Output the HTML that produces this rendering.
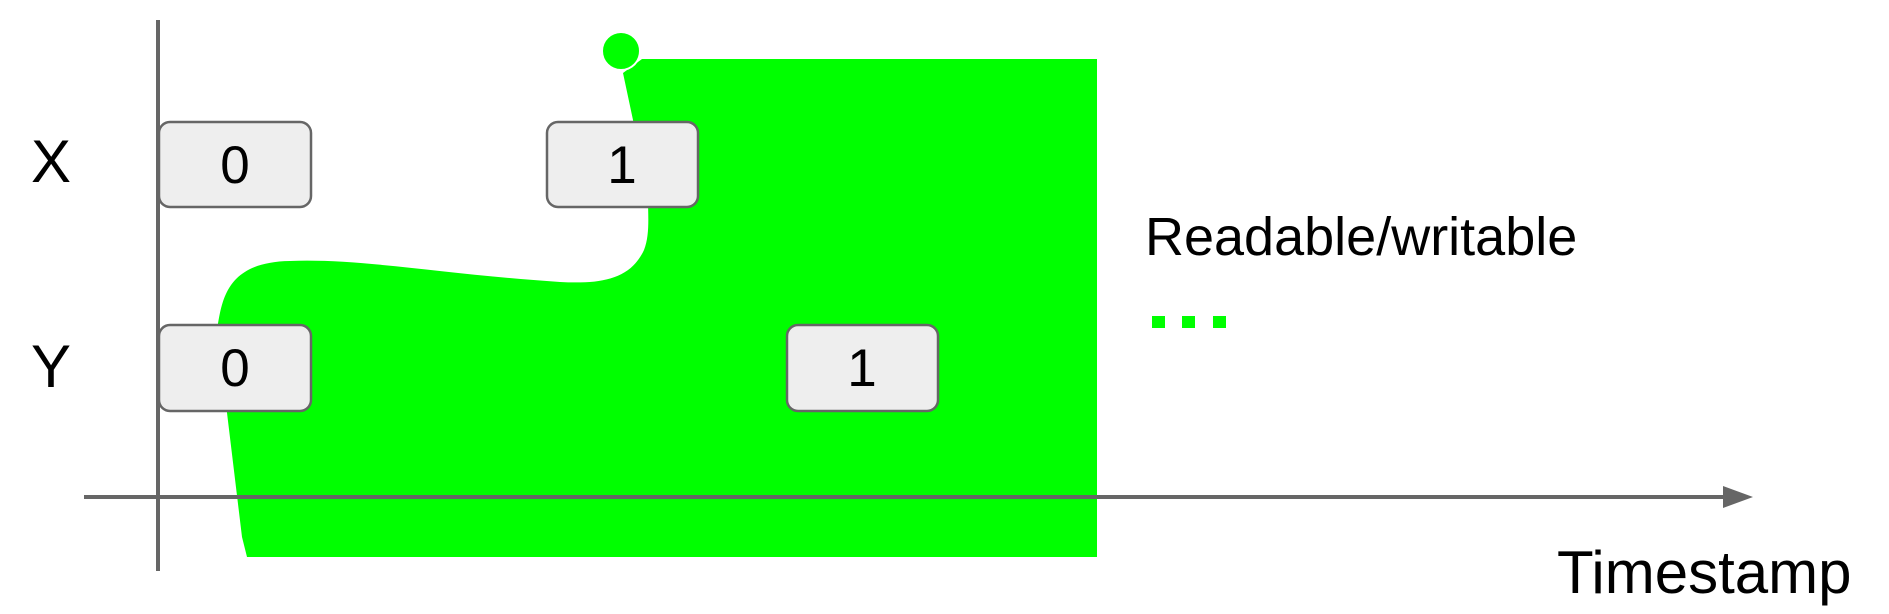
<!DOCTYPE html>
<html><head><meta charset="utf-8"><style>
html,body{margin:0;padding:0;background:#fff;}
svg{display:block;}
text{font-family:"Liberation Sans",Arial,sans-serif;fill:#000;}
</style></head><body>
<svg width="1889" height="614" viewBox="0 0 1889 614" xmlns="http://www.w3.org/2000/svg">
<!-- green region -->
<path d="M642 59 L1097 59 L1097 557 L247 557 L242 537 L217 330 C222 300 226 262 290 261 C360 258 450 275 560 282 C600 284 630 280 644 250 C650 235 648 215 648 200 L633 120 L623 73 Z" fill="#00ff00"/>
<circle cx="621" cy="51" r="19" fill="#00ff00" stroke="#fff" stroke-width="2"/>
<!-- axes -->
<line x1="158" y1="20" x2="158" y2="571" stroke="#666" stroke-width="4"/>
<line x1="84" y1="497" x2="1725" y2="497" stroke="#666" stroke-width="4"/>
<polygon points="1723,486 1753,497 1723,508" fill="#666"/>
<!-- boxes -->
<rect x="159" y="122" width="152" height="85" rx="11" fill="#eeeeee" stroke="#666" stroke-width="2.5"/>
<rect x="547" y="122" width="151" height="85" rx="11" fill="#eeeeee" stroke="#666" stroke-width="2.5"/>
<rect x="159" y="325" width="152" height="86" rx="11" fill="#eeeeee" stroke="#666" stroke-width="2.5"/>
<rect x="787" y="325" width="151" height="86" rx="11" fill="#eeeeee" stroke="#666" stroke-width="2.5"/>
<text x="235" y="183" font-size="53" text-anchor="middle">0</text>
<text x="622" y="183" font-size="53" text-anchor="middle">1</text>
<text x="235" y="386" font-size="53" text-anchor="middle">0</text>
<text x="862" y="386" font-size="53" text-anchor="middle">1</text>
<!-- labels -->
<text x="31" y="182" font-size="60">X</text>
<text x="31" y="387" font-size="60">Y</text>
<text x="1145" y="255" font-size="54">Readable/writable</text>
<rect x="1152" y="316" width="13" height="12" fill="#00ff00"/>
<rect x="1182" y="316" width="13" height="12" fill="#00ff00"/>
<rect x="1213" y="316" width="13" height="12" fill="#00ff00"/>
<text x="1557" y="593" font-size="60">Timestamp</text>
</svg>
</body></html>
